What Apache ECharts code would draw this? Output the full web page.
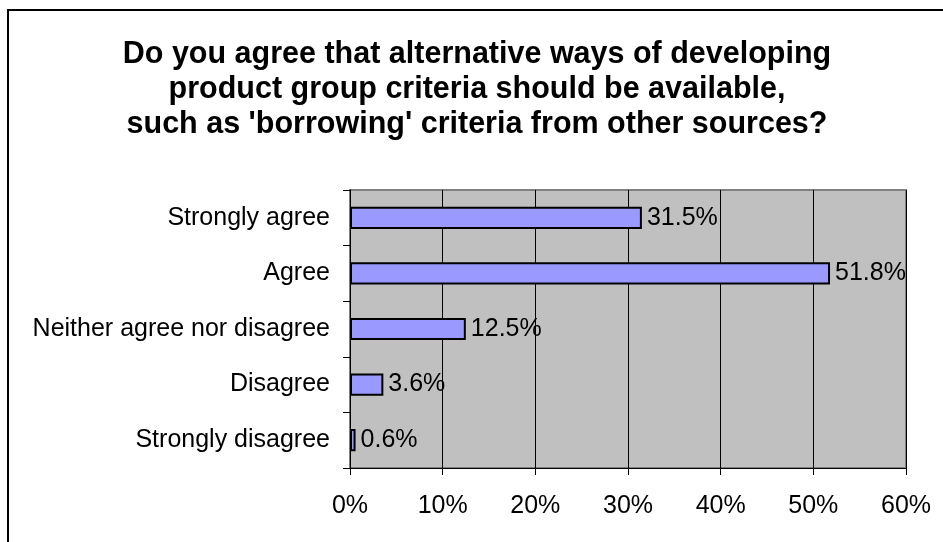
<!DOCTYPE html>
<html>
<head>
<meta charset="utf-8">
<style>
  html, body { margin: 0; padding: 0; background: #ffffff; }
  #chart { width: 943px; height: 542px; }
</style>
<script src="https://cdn.jsdelivr.net/npm/echarts@6/dist/echarts.min.js"></script>
</head>
<body>
<div id="chart"></div>
<script>
// Survey answers, top to bottom
const categories = [
  'Strongly agree',
  'Agree',
  'Neither agree nor disagree',
  'Disagree',
  'Strongly disagree'
];
// Share of respondents (%)
const shares = [31.5, 51.8, 12.5, 3.6, 0.6];
const titleLines = [
  'Do you agree that alternative ways of developing',
  'product group criteria should be available,',
  "such as 'borrowing' criteria from other sources?"
];

const FONT = '"Liberation Sans", Arial, sans-serif';
const chart = echarts.init(document.getElementById('chart'), null, { renderer: 'canvas' });

chart.setOption({
  backgroundColor: '#ffffff',
  animation: false,
  title: {
    text: titleLines.join('\n'),
    left: 472,
    textAlign: 'center',
    top: 32,
    textStyle: {
      fontFamily: FONT,
      fontSize: 30.5,
      fontWeight: 'bold',
      color: '#000000',
      lineHeight: 35
    }
  },
  graphic: [{
    type: 'rect',
    shape: { x: 8, y: 10, width: 960, height: 560 },
    style: { fill: 'none', stroke: '#000000', lineWidth: 2 },
    silent: true,
    z: 100
  }],
  grid: {
    left: 350,
    right: 37,
    top: 190,
    bottom: 74,
    show: true,
    backgroundColor: '#c0c0c0',
    borderColor: '#808080',
    borderWidth: 2
  },
  xAxis: {
    type: 'value',
    min: 0,
    max: 60,
    interval: 10,
    axisLine: { show: true, lineStyle: { color: '#000000', width: 1 } },
    axisTick: { show: true, length: 7, lineStyle: { color: '#000000' } },
    splitLine: { show: true, lineStyle: { color: '#000000', width: 1 } },
    axisLabel: {
      margin: 26,
      fontFamily: FONT,
      fontSize: 25,
      color: '#000000',
      formatter: v => v + '%'
    }
  },
  yAxis: {
    type: 'category',
    data: categories,
    inverse: true,
    axisLine: { show: true, lineStyle: { color: '#000000', width: 1 } },
    axisTick: { show: true, length: 7, alignWithLabel: false, lineStyle: { color: '#000000' } },
    splitLine: { show: false },
    axisLabel: {
      margin: 20,
      fontFamily: FONT,
      fontSize: 25,
      color: '#000000'
    }
  },
  series: [{
    type: 'bar',
    data: shares,
    barCategoryGap: '60%',
    itemStyle: {
      color: '#9999ff',
      borderColor: '#000000',
      borderWidth: 2
    },
    label: {
      show: true,
      position: 'right',
      distance: 5,
      fontFamily: FONT,
      fontSize: 25,
      color: '#000000',
      formatter: p => p.value.toFixed(1) + '%'
    }
  }]
});
</script>
</body>
</html>
